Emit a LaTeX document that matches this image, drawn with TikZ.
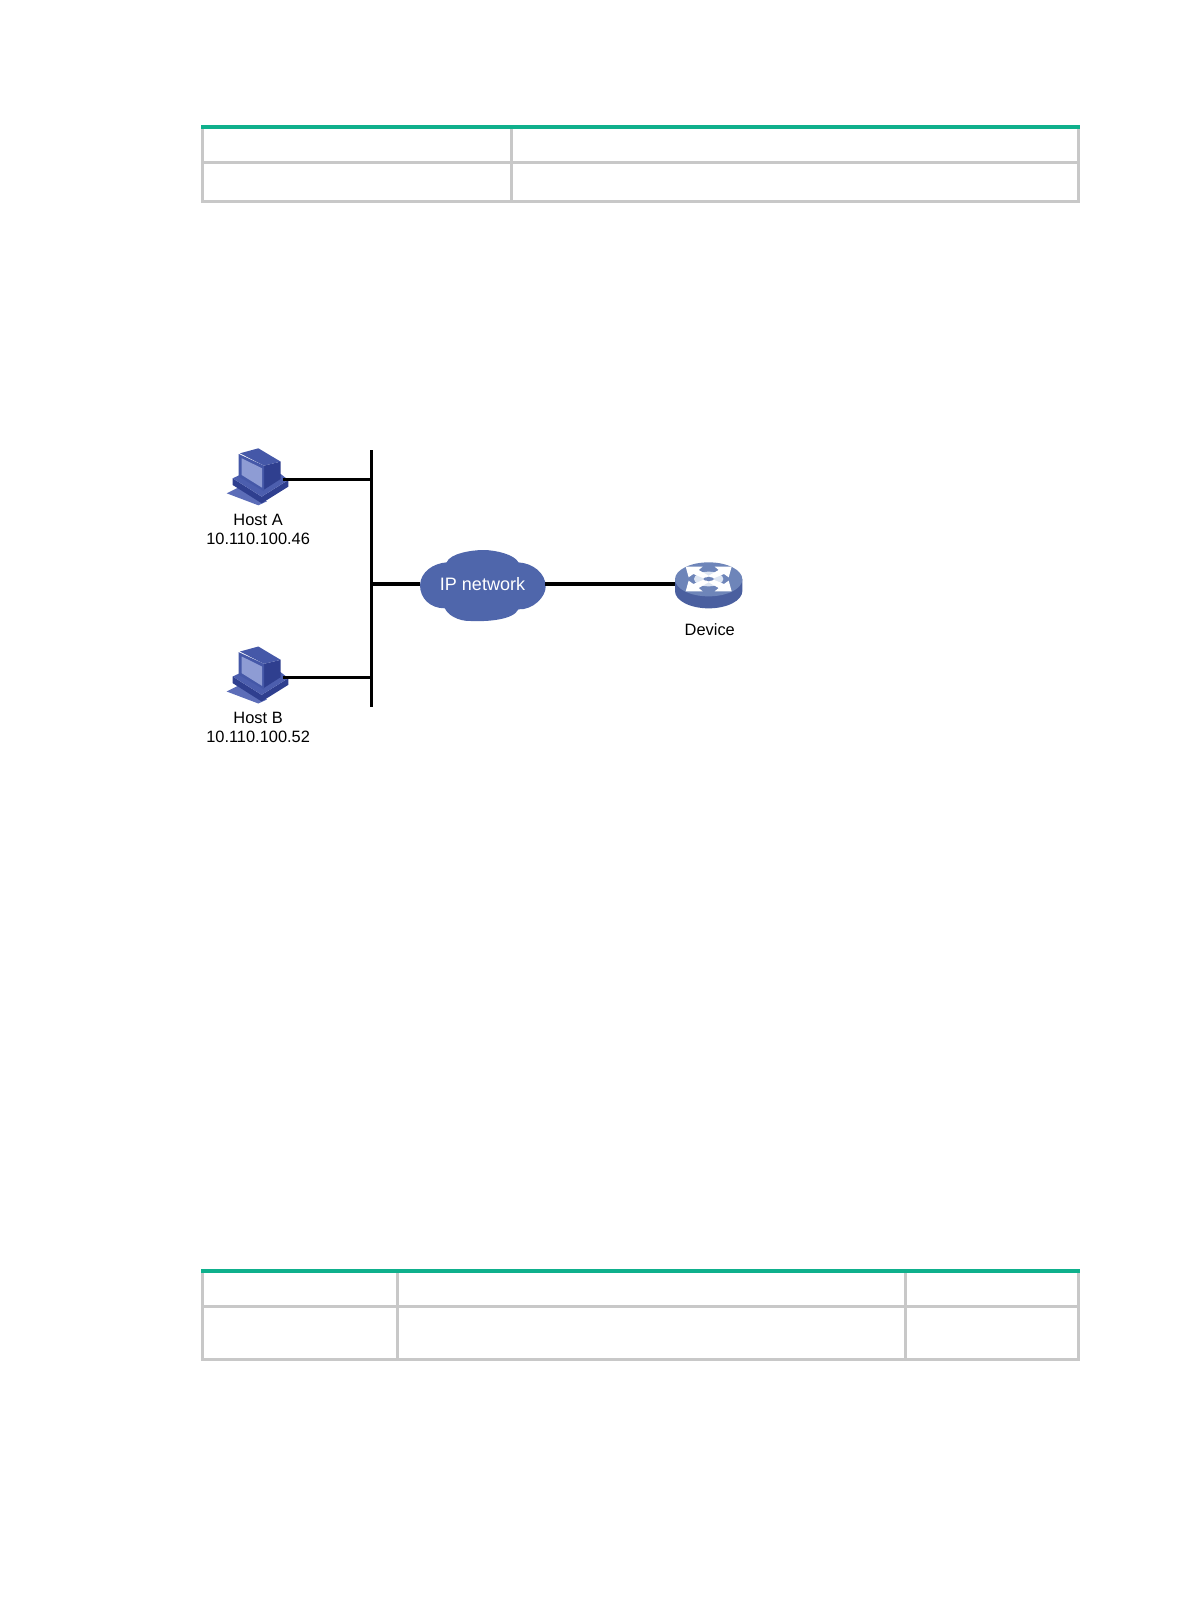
\documentclass[tikz,border=0pt]{standalone}
\usepackage{fontspec}
\setmainfont{Liberation Sans}
\definecolor{tablegreen}{HTML}{0FB08C}
\definecolor{tablegrey}{HTML}{C8C8C8}
\definecolor{cloudblue}{HTML}{4F66AB}
\definecolor{hosttop}{HTML}{4558A8}
\definecolor{hostside}{HTML}{2F3F8F}
\definecolor{hostscreen}{HTML}{8E9CD4}
\definecolor{hostbase}{HTML}{4C5EAE}
\definecolor{hostkeys}{HTML}{5C6DB8}
\definecolor{devtop}{HTML}{6E85B9}
\definecolor{devside}{HTML}{4A5F9F}
\definecolor{devmid}{HTML}{DDE5F2}
\tikzset{
	pics/hosticon/.style={code={
		\begin{scope}[x=0.1667pt,y=-0.1667pt,shift={(-103.5,-106)}]
		\fill[hostkeys] (14,148) -- (54,128) -- (135,172) -- (109,184) -- cycle;
		\fill[hostside] (32,103) -- (32,123) -- (119,178) -- (199,128) -- (199,108) -- (119,158) -- cycle;
		\fill[hostbase] (32,103) -- (60,90) -- (176,90) -- (199,108) -- (119,158) -- cycle;
		\fill[hostside] (126,65) -- (176,53) -- (176,105) -- (126,137) -- cycle;
		\fill[hosttop] (54,28) -- (109,13) -- (176,53) -- (126,65) -- cycle;
		\fill[hosttop] (50,30) -- (126,65) -- (126,142) -- (50,98) -- cycle;
		\fill[hostscreen] (59,43) -- (120,73) -- (120,131) -- (59,93) -- cycle;
		\end{scope}
	}},
	pics/deviceicon/.style={code={
		\begin{scope}[x=0.1667pt,y=-0.1667pt,shift={(-117,-87)}]
		\fill[devside] (15,73) -- (15,108) arc[start angle=180,end angle=0,x radius=101,y radius=52] -- (217,73) -- cycle;
		\fill[devtop] (116,73) ellipse[x radius=101,y radius=51];
		\fill[devmid] (116,72) ellipse[x radius=44,y radius=22];
		\foreach \sx/\sy in {1/1,-1/1,1/-1,-1/-1}{
			\fill[white,shift={(116,72)},xscale=\sx,yscale=\sy] (-69,-37) -- (-18,-37) -- (-30,-27) -- (0,-10) -- (-10,0) -- (-46,-15) -- (-60,-5) -- cycle;
		}
		\fill[devtop] (116,72) ellipse[x radius=16,y radius=6];
		\end{scope}
	}},
	hostnode/.style={ inner sep=0pt, minimum width=26pt, minimum height=30pt },
	devicenode/.style={ inner sep=0pt, minimum width=34pt, minimum height=25pt },
	cloudnode/.style={ inner sep=0pt, minimum width=62.5pt, text=white, font=\fontsize{9}{10}\selectfont },
	hostlabel/.style={ inner sep=0pt, align=center, font=\fontsize{8.2}{9.5}\selectfont, label distance=2pt, xshift=0.8pt },
	link/.style={ line width=1.6pt },
	tableline/.style={ tablegrey, line width=1.5pt },
	tabletop/.style={ tablegreen, line width=2pt }
}
\begin{document}
\begin{tikzpicture}[x=0.5pt,y=-0.5pt]
\useasboundingbox (0,0) rectangle (1190,1616);

% first table
\draw[tableline] (202,127) rectangle (1078.5,201);
\draw[tableline] (202,162) -- (1078.5,162);
\draw[tableline] (511.5,127) -- (511.5,201);
\draw[tabletop] (201,127) -- (1079.5,127);

% second table
\draw[tableline] (202,1271) rectangle (1078.5,1359);
\draw[tableline] (202,1306) -- (1078.5,1306);
\draw[tableline] (397.5,1271) -- (397.5,1359);
\draw[tableline] (905.5,1271) -- (905.5,1359);
\draw[tabletop] (201,1271) -- (1079.5,1271);

\coordinate (bustop) at (371.7,450);
\coordinate (busbot) at (371.7,706.7);
\node at (256.5,479.3) (hosta) [hostnode,label={[hostlabel]below:Host A\\10.110.100.46}] {};
\node at (256.5,677.5) (hostb) [hostnode,label={[hostlabel]below:Host B\\10.110.100.52}] {};
\node at (709,584) (device) [devicenode,label={[hostlabel,label distance=7pt,xshift=-0.4pt]below:Device}] {};

% cloud outline goes under its node
\fill[cloudblue,shift={(400,530)},x=0.1667pt,y=-0.1667pt]
	(60,165) .. controls (62,125) and (100,100) .. (140,97)
	.. controls (150,70) and (215,60) .. (250,60)
	.. controls (290,60) and (345,75) .. (355,97)
	.. controls (400,100) and (437,130) .. (437,170)
	.. controls (437,200) and (400,240) .. (355,238)
	.. controls (340,270) and (260,275) .. (215,273)
	.. controls (170,275) and (140,250) .. (135,235)
	.. controls (90,235) and (60,205) .. (60,165) -- cycle;
\node at (482.5,584) (cloud) [cloudnode] {IP network};

\pic at (hosta) {hosticon};
\pic at (hostb) {hosticon};
\pic at (device) {deviceicon};

\draw[link] (bustop) -- (busbot);
\draw[link] (hosta) -- (hosta -| bustop);
\draw[link] (hostb) -- (hostb -| bustop);
\draw[link] (cloud) -- (cloud -| bustop);
\draw[link] (cloud) -- (device);

\end{tikzpicture}
\end{document}
